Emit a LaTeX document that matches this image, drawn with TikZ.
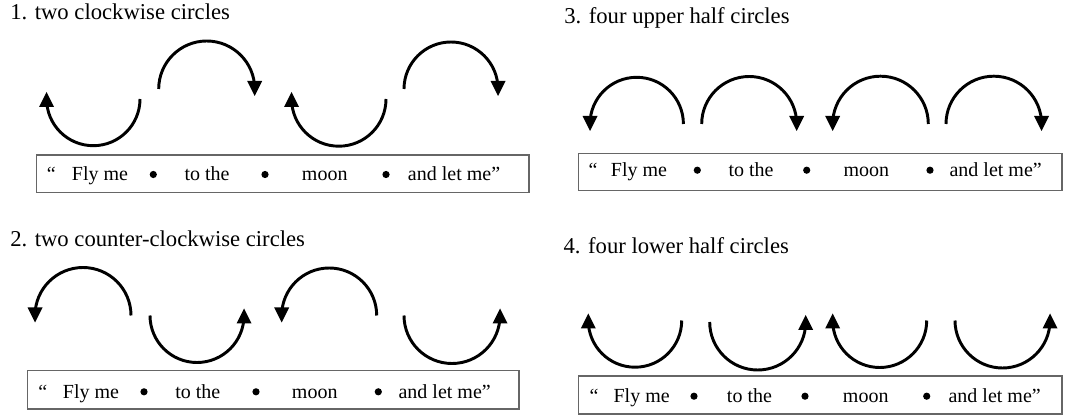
\documentclass[tikz,border=0pt]{standalone}
\usepackage{fontspec}
\setmainfont{Liberation Serif}
\newcommand\arcLowL[3]{\draw[arcline] ({#1+#3},#2) arc[start angle=0,end angle=180,radius=#3];
  \fill ({#1-#3},{#2-7}) -- ++(-7.5,15) -- ++(15,0) -- cycle;}
\newcommand\arcLowR[3]{\draw[arcline] ({#1-#3},#2) arc[start angle=180,end angle=0,radius=#3];
  \fill ({#1+#3},{#2-7}) -- ++(-7.5,15) -- ++(15,0) -- cycle;}
\newcommand\arcUpL[3]{\draw[arcline] ({#1+#3},#2) arc[start angle=360,end angle=180,radius=#3];
  \fill ({#1-#3},{#2+7}) -- ++(-7.5,-15) -- ++(15,0) -- cycle;}
\newcommand\arcUpR[3]{\draw[arcline] ({#1-#3},#2) arc[start angle=180,end angle=360,radius=#3];
  \fill ({#1+#3},{#2+7}) -- ++(-7.5,-15) -- ++(15,0) -- cycle;}
% sentence row: prefix, baseline, then x positions
\newcommand\sentence[9]{%
  \node[wordtext] (#1q) at (#3,#2) {“};
  \node[wordtext] (#1a) at (#4,#2) {Fly me};
  \fill ({#5},{#2-6.5}) circle[radius=3.6];
  \node[wordtext] (#1b) at (#6,#2) {to the};
  \node[wordtext] (#1c) at (#7,#2) {moon};
  \node[wordtext] (#1d) at (#8,#2) {and let me”};
  \fill ({#9},{#2-6.5}) circle[radius=3.6];
}
\begin{document}
\begin{tikzpicture}[x=0.75pt,y=-0.75pt,
  arcline/.style={line width=2.2pt,black},
  boxline/.style={line width=1.1pt,black!60},
  wordtext/.style={anchor=base west,inner sep=0pt,font=\fontsize{15}{18}\selectfont},
  titletext/.style={anchor=base west,inner sep=0pt,font=\fontsize{17}{20}\selectfont}]
\useasboundingbox (0,0) rectangle (1070,416);
% ---------- panel 1 ----------
\node[titletext] (t1) at (10,20) {1. two clockwise circles};
\arcLowL{93.3}{99}{46.7}
\arcUpR{206.7}{89}{48}
\arcLowL{338.8}{99}{47.2}
\arcUpR{451}{89}{47}
\draw[boxline] (36.7,155) rectangle (529,192.7);
\sentence{p1}{181}{46.7}{71.7}{153.3}{184.3}{301.7}{407.7}{386}
\fill (265,174.5) circle[radius=3.6];
% ---------- panel 2 ----------
\node[titletext] (t2) at (10,246.7) {2. two counter-clockwise circles};
\arcUpL{83}{315.5}{48}
\arcLowR{197}{315.5}{47}
\arcUpL{329.2}{315.5}{47.5}
\arcLowR{452}{315.5}{48}
\draw[boxline] (27.3,370.7) rectangle (519,409);
\sentence{p2}{398.3}{38}{62.7}{144}{175}{291.7}{398.3}{378.3}
\fill (256,391.8) circle[radius=3.6];
% ---------- panel 3 ----------
\node[titletext] (t3) at (564,23.3) {3. four upper half circles};
\arcUpL{636.7}{124}{46.7}
\arcUpR{749.2}{124}{47.5}
\arcUpL{880.5}{124}{47.8}
\arcUpR{993.8}{124}{47.8}
\draw[boxline] (578.3,153.3) rectangle (1062,190.7);
\sentence{p3}{176.7}{588.3}{610.7}{697.3}{728.3}{843.3}{949.3}{930}
\fill (806.7,170.2) circle[radius=3.6];
% ---------- panel 4 ----------
\node[titletext] (t4) at (563.3,253.3) {4. four lower half circles};
\arcLowL{635}{320.5}{46.7}
\arcLowR{757.7}{322}{48}
\arcLowL{879.7}{320.5}{47}
\arcLowR{1002.5}{320.5}{47.5}
\draw[boxline] (578.3,376) rectangle (1062,414);
\sentence{p4}{402.7}{589.3}{613.3}{694}{726.7}{842.7}{948.3}{926.7}
\fill (805,396.2) circle[radius=3.6];
\end{tikzpicture}
\end{document}
